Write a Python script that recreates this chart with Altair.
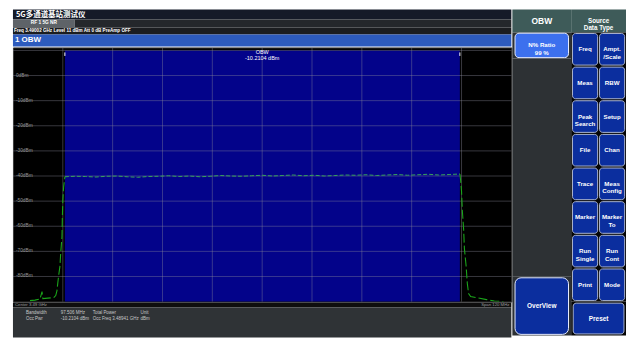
import altair as alt
import pandas as pd

FONT = "Liberation Sans"
CJK = "Noto Sans CJK SC"

# ---------------- texts ----------------
title_text = "5G多通道基站测试仪"
tab_text = "RF 1 5G NR"
status_text = "Freq 3.49002 GHz  Level 11 dBm  Att 0 dB  PreAmp OFF"
window_text = "1 OBW"
obw_title = "OBW"
obw_power = "-10.2104 dBm"
center_text = "Center 3.49 GHz"
span_text = "Span 120 MHz"
info_col1 = ["Bandwidth", "Occ Pwr"]
info_col2 = ["97.506 MHz", "-10.2104 dBm"]
info_col3 = ["Total Power", "Occ Freq 3.48941 GHz"]
info_col4 = ["Unit", "dBm"]

menu_title = "OBW"
menu_source = "Source\nData Type"
ratio_label = "N% Ratio\n99 %"
overview_label = "OverView"
preset_label = "Preset"
button_labels = ["Freq", "Ampt.\n/Scale", "Meas", "RBW", "Peak\nSearch", "Setup",
                 "File", "Chan", "Trace", "Meas\nConfig", "Marker", "Marker\nTo",
                 "Run\nSingle", "Run\nCont", "Print", "Mode"]

# ---------------- spectrum data ----------------
freq_domain = [3430, 3550]
level_domain = [-90, 11.2]
x_grid = [3442, 3454, 3466, 3478, 3490, 3502, 3514, 3526, 3538]
y_grid = [10, 0, -10, -20, -30, -40, -50, -60, -70, -80]
y_labels = [0, -10, -20, -30, -40, -50, -60, -70, -80]
center_freq = 3490
obw_lo = 3442.5
obw_hi = 3537.6

left_freq = [3434.1, 3435.3, 3436.5, 3437.0, 3437.2, 3438.4, 3439.8, 3440.3, 3440.6,
             3440.8, 3441.0, 3441.3, 3441.5, 3441.8, 3441.9, 3442.0, 3442.2, 3442.5]
left_dbm = [-89.6, -89.4, -89.0, -86.0, -88.8, -88.6, -88.4, -87.6, -85.6,
            -82.5, -79.7, -76.1, -70.6, -64.2, -55.9, -49.9, -44.4, -40.3]

band_freq = [3442.5, 3445.0, 3447.5, 3450.0, 3452.5, 3455.0, 3457.5, 3460.0, 3462.5, 3465.0,
             3467.5, 3470.0, 3472.5, 3475.0, 3477.5, 3480.0, 3482.5, 3485.0, 3487.5, 3490.0,
             3492.5, 3495.0, 3497.5, 3500.0, 3502.5, 3505.0, 3507.5, 3510.0, 3512.5, 3515.0,
             3517.5, 3520.0, 3522.5, 3525.0, 3527.5, 3530.0, 3532.5, 3535.0, 3537.6]
band_dbm = [-40.3, -40.1, -40.2, -40.4, -40.1, -40.0, -40.3, -40.5, -40.2, -40.1,
            -39.9, -40.2, -40.0, -40.3, -40.1, -39.8, -40.0, -40.1, -39.9, -39.7,
            -40.0, -39.8, -39.6, -39.9, -39.7, -40.0, -39.8, -39.6, -39.7, -39.5,
            -39.8, -39.6, -39.4, -39.7, -39.5, -39.3, -39.6, -39.4, -39.2]

right_freq = [3537.6, 3537.8, 3538.0, 3538.2, 3538.5, 3538.7, 3539.1, 3539.4, 3539.7,
              3540.2, 3542.1, 3544.0, 3545.9, 3548.1]
right_dbm = [-39.2, -42.0, -46.0, -53.9, -61.0, -69.0, -75.7, -82.9, -86.8,
             -88.0, -88.6, -89.2, -89.8, -90.0]

# ---------------- spectrum plot ----------------
xs = alt.Scale(domain=freq_domain, nice=False, zero=False)
ys = alt.Scale(domain=level_domain, nice=False, zero=False)

obw_df = pd.DataFrame({"lo": [obw_lo], "hi": [obw_hi]})
obw_rect = alt.Chart(obw_df).mark_rect(color="#03038a").encode(
    x=alt.X("lo:Q", scale=xs, axis=None), x2="hi:Q",
    y=alt.YDatum(y_grid[0], axis=None), y2=alt.Y2Datum(level_domain[0]))

grid_style = dict(color="#8a8a9a", opacity=0.4, strokeWidth=1)
xg = alt.Chart(pd.DataFrame({"v": x_grid})).mark_rule(**grid_style).encode(
    x=alt.X("v:Q", scale=xs, axis=None))
yg = alt.Chart(pd.DataFrame({"v": y_grid})).mark_rule(**grid_style).encode(
    y=alt.Y("v:Q", scale=ys, axis=None))

ylab = alt.Chart(pd.DataFrame({"v": y_labels})).transform_calculate(
    lab="datum.v + 'dBm'").mark_text(
    color="#9a9a9a", fontSize=4.8, font=FONT, align="left", baseline="middle", dx=3).encode(
    x=alt.XDatum(freq_domain[0], axis=None),
    y=alt.Y("v:Q", scale=ys, axis=None), text="lab:N")

skirt_df = pd.DataFrame({
    "f": left_freq + right_freq,
    "d": left_dbm + right_dbm,
    "side": ["L"] * len(left_freq) + ["R"] * len(right_freq),
})
skirts = alt.Chart(skirt_df).mark_line(color="#1aa51a", strokeWidth=1.1, strokeDash=[9, 3],
                                       clip=True).encode(
    x=alt.X("f:Q", scale=xs, axis=None),
    y=alt.Y("d:Q", scale=ys, axis=None),
    detail="side:N")

band_df = pd.DataFrame({"f": band_freq, "d": band_dbm})
band_line = alt.Chart(band_df).mark_line(color="#38a25c", strokeWidth=1, strokeDash=[4, 2],
                                         clip=True).encode(
    x=alt.X("f:Q", scale=xs, axis=None),
    y=alt.Y("d:Q", scale=ys, axis=None))

edge_marks = alt.Chart(pd.DataFrame({"f": [obw_lo, obw_hi]})).mark_rule(
    color="#ffffff", strokeWidth=1).encode(
    x=alt.X("f:Q", scale=xs, axis=None),
    y=alt.YDatum(9.2, axis=None), y2=alt.Y2Datum(7.8))

ann = alt.Chart(pd.DataFrame({"t": [obw_title + "\n" + obw_power]})).mark_text(
    color="#ffffff", fontSize=5.5, font=FONT, baseline="top", lineBreak="\n",
    lineHeight=6).encode(
    x=alt.XDatum(center_freq, axis=None), y=alt.YDatum(10.3, axis=None), text="t:N")

plot = alt.layer(obw_rect, xg, yg, ylab, skirts, band_line, edge_marks, ann).properties(
    width=500, height=255,
    view=alt.ViewBackground(fill="#000000", stroke="#3c3c3c", strokeWidth=1))


# ---------------- chrome helpers ----------------
def bar(w, h, fill, text="", xpos=None, align="center", color="#ffffff", size=5,
        weight="bold", font=FONT):
    df = pd.DataFrame({"t": [text]})
    enc = {"text": "t:N"}
    if xpos is not None:
        enc["x"] = alt.value(xpos)
    return alt.Chart(df).mark_text(color=color, fontSize=size, fontWeight=weight,
                                   font=font, align=align, lineBreak="\n",
                                   lineHeight=size + 1.2).encode(**enc).properties(
        width=w, height=h, view=alt.ViewBackground(fill=fill))


def button(w, h, bg, label, fill, stroke, radius, px, py, fs):
    df = pd.DataFrame({"k": ["b"], "t": [label]})
    xb = alt.X("k:N", axis=None, scale=alt.Scale(paddingInner=0, paddingOuter=px))
    yb = alt.Y("k:N", axis=None, scale=alt.Scale(paddingInner=0, paddingOuter=py))
    r = alt.Chart(df).mark_rect(fill=fill, stroke=stroke, strokeWidth=1,
                                cornerRadius=radius).encode(x=xb, y=yb)
    t = alt.Chart(df).mark_text(color="#ffffff", font=FONT, fontWeight="bold",
                                fontSize=fs, lineBreak="\n",
                                lineHeight=fs + 1.2).encode(x=xb, y=yb, text="t:N")
    return alt.layer(r, t).properties(width=w, height=h,
                                      view=alt.ViewBackground(fill=bg))


# ---------------- left column ----------------
header = bar(500, 10, "#151a28", title_text, xpos=3, align="left", size=7.5, font=CJK)
tab = bar(62, 8, "#5e6368", tab_text, size=4.8)
tab_rest = bar(438, 8, "#24272b")
tab_row = alt.hconcat(tab, tab_rest, spacing=0, bounds="flush")
status = bar(500, 7, "#1b1d20", status_text, xpos=1, align="left", size=4.6)
window_bar = bar(500, 12, "#2d5bbd", window_text, xpos=2, align="left", size=8)


def text_layer(df_text, xpos, color, size, align="left", baseline="top", ypos=0):
    return alt.Chart(pd.DataFrame({"t": [df_text]})).mark_text(
        color=color, fontSize=size, font=FONT, align=align, baseline=baseline,
        lineBreak="\n", lineHeight=6).encode(
        x=alt.value(xpos), y=alt.value(ypos), text="t:N")


strip = alt.layer(
    text_layer(center_text, 2, "#9a9a9a", 4.3, baseline="middle", ypos=2.5),
    text_layer(span_text, 498, "#9a9a9a", 4.3, align="right", baseline="middle", ypos=2.5),
).properties(width=500, height=5, view=alt.ViewBackground(fill="#0e0e0e"))

info = alt.layer(
    text_layer("\n".join(info_col1), 13, "#c8c8c8", 4.5, ypos=2),
    text_layer("\n".join(info_col2), 48, "#c8c8c8", 4.5, ypos=2),
    text_layer("\n".join(info_col3), 80, "#c8c8c8", 4.5, ypos=2),
    text_layer("\n".join(info_col4), 128, "#c8c8c8", 4.5, ypos=2),
).properties(width=500, height=30, view=alt.ViewBackground(fill="#2f3336"))

left_col = alt.vconcat(header, tab_row, status, window_bar, plot, strip, info,
                       spacing=0)

# ---------------- right panel ----------------
HEAD = "#3e5b59"
GRAY = "#2d3134"
BTN = "#0b2e9e"

obw_head = bar(59, 23, HEAD, menu_title, size=8.5)
ratio_btn = button(59, 26, GRAY, ratio_label, "#3c70ee", "#e6ecff", 4, 0.05, 0.03, 6.2)
spacer = bar(59, 219, GRAY)
overview_btn = button(59, 59, GRAY, overview_label, BTN, "#e6ecff", 6, 0.05, 0.02, 6.5)
left_sub = alt.vconcat(obw_head, ratio_btn, spacer, overview_btn, spacing=0, bounds="flush")

src_head = bar(55, 23, HEAD, menu_source, size=6.3)
gdf = pd.DataFrame({
    "t": button_labels,
    "row": [i // 2 for i in range(len(button_labels))],
    "col": [i % 2 for i in range(len(button_labels))],
})
gx = alt.X("col:O", axis=None, scale=alt.Scale(paddingInner=0.07, paddingOuter=0.05))
gy = alt.Y("row:O", axis=None, scale=alt.Scale(paddingInner=0.06, paddingOuter=0.03))
grid_rects = alt.Chart(gdf).mark_rect(fill=BTN, stroke="#aab4d0", strokeWidth=1,
                                      cornerRadius=3).encode(x=gx, y=gy)
grid_text = alt.Chart(gdf).mark_text(color="#ffffff", font=FONT, fontWeight="bold",
                                     fontSize=6.2, lineBreak="\n",
                                     lineHeight=7.4).encode(x=gx, y=gy, text="t:N")
grid = alt.layer(grid_rects, grid_text).properties(
    width=55, height=270, view=alt.ViewBackground(fill="#050505"))
preset_btn = button(55, 34, "#050505", preset_label, BTN, "#aab4d0", 3, 0.04, 0.05, 6.5)
right_sub = alt.vconcat(src_head, grid, preset_btn, spacing=0, bounds="flush")

right_col = alt.hconcat(left_sub, right_sub, spacing=0)

chart = alt.hconcat(left_col, right_col, spacing=0).properties(
    padding={"left": 12, "top": 9, "right": 0, "bottom": 15},
    background="#ffffff",
).configure_view(strokeWidth=0).configure_concat(spacing=0)

chart.save("out.html", embed_options={"renderer": "svg", "actions": False})
